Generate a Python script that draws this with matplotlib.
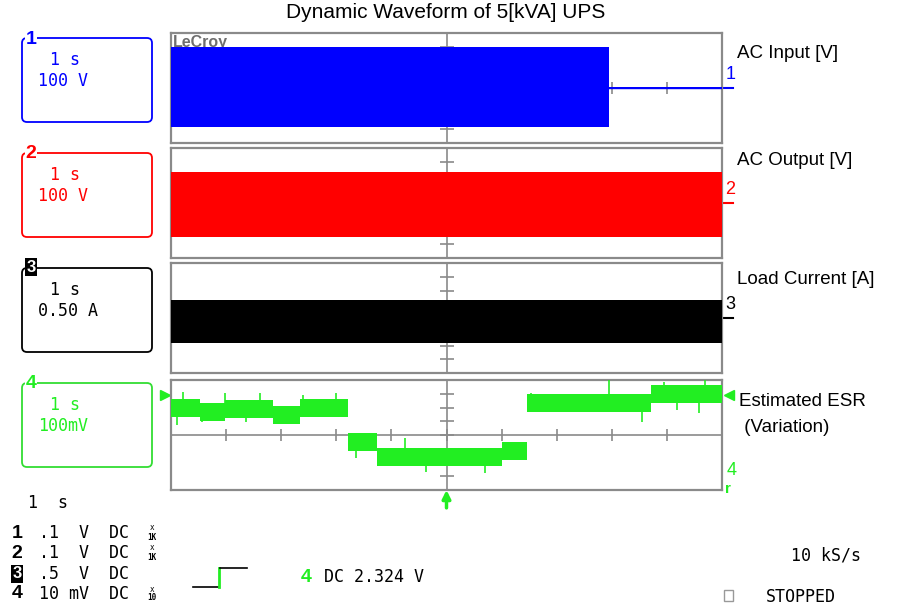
import matplotlib.pyplot as plt
import numpy as np
from matplotlib.patches import FancyBboxPatch, Rectangle

# --- Scope time base: 1 s/div, 10 x 8 divisions ---
n_xdiv = 10
n_ydiv = 8
trig_time = 5.0

# --- Channel 1: AC input [V], 100 V/div (mains cut at ~7.95 s) ---
ac_in_scale = 100
ac_in_t = [0.0, 7.95, 7.95, 10.0]
ac_in_upper = [300, 300, 5, 5]
ac_in_lower = [-285, -285, -5, -5]

# --- Channel 2: AC output [V], 100 V/div ---
ac_out_scale = 100
ac_out_t = [0.0, 10.0]
ac_out_upper = [228, 228]
ac_out_lower = [-245, -245]

# --- Channel 3: load current [A], 0.5 A/div ---
load_scale = 0.5
load_t = [0.0, 10.0]
load_upper = [0.65, 0.65]
load_lower = [-0.90, -0.90]

# --- Channel 4: estimated ESR variation [mV], 100 mV/div ---
esr_scale = 100
esr_edges = [0.0, 0.53, 0.98, 1.85, 2.34, 3.21, 3.73, 6.00, 6.47, 8.71, 10.0]
esr_levels = [196, 167, 189, 145, 196, -51, -157, -116, 230, 298]
esr_ripple = 66
esr_spike_t = [0.22, 0.98, 1.61, 2.40, 3.00, 6.53, 0.10, 0.56, 1.37, 3.36,
               4.24, 4.63, 5.69, 8.37, 8.55, 9.18, 9.58, 7.95, 8.95, 9.70]
esr_spike_v = [315, 303, 308, 291, 303, 303, 73, 97, 97, -170,
               -24, -267, -279, 182, 97, 182, 160, 400, 388, 400]
trig_level = 290

# --- Labels ---
title = "Dynamic Waveform of 5[kVA] UPS"
right_labels = ["AC Input [V]", "AC Output [V]", "Load Current [A]", "Estimated ESR", " (Variation)"]
right_label_y = [54, 160, 279, 402, 427]
ch_colors = ["#0000ff", "#ff0000", "#000000", "#22ee22"]
box_scales = ["100 V", "100 V", "0.50 A", "100mV"]
probe_volts = [".1  V", ".1  V", ".5  V", "10 mV"]
probe_atten = ["1K", "1K", "", "10"]

grid_col = "#8a8a8a"
mono = "DejaVu Sans Mono"
sans = "Liberation Sans"

fig = plt.figure(figsize=(9, 6.15), dpi=100)

# panel layout in pixels
panel_tops = [33, 148, 263, 380]
panel_h = 110
panel_left, panel_right = 171, 722


def px_axes(top):
    return fig.add_axes([panel_left / 900, 1 - (top + panel_h) / 615,
                         (panel_right - panel_left) / 900, panel_h / 615])


scales = [ac_in_scale, ac_out_scale, load_scale, esr_scale]
axes = []
for top, sc in zip(panel_tops, scales):
    ax = px_axes(top)
    ax.set_xlim(0, n_xdiv)
    ax.set_ylim(-n_ydiv / 2 * sc, n_ydiv / 2 * sc)
    ax.set_xticks([])
    ax.set_yticks([])
    for s in ax.spines.values():
        s.set_color(grid_col)
        s.set_linewidth(1.6)
    # centre cross with division ticks
    ax.axvline(n_xdiv / 2, color=grid_col, lw=1.2, zorder=1)
    ax.axhline(0, color=grid_col, lw=1.2, zorder=1)
    ax.plot(np.arange(1, n_xdiv), np.zeros(n_xdiv - 1), ls="none", marker="|",
            ms=8, mew=1.2, color=grid_col, zorder=1)
    ax.plot(np.full(n_ydiv - 1, n_xdiv / 2), sc * np.arange(-3, 4), ls="none",
            marker="_", ms=10, mew=1.2, color=grid_col, zorder=1)
    axes.append(ax)

ax1, ax2, ax3, ax4 = axes

# LeCroy logo partly hidden behind trace 1
ax1.text(0.004, 0.985, "LeCroy", transform=ax1.transAxes, color="#6e6e6e",
         fontsize=11.5, fontweight="bold", family=sans, va="top", zorder=1)

# traces
ax1.fill_between(ac_in_t, ac_in_lower, ac_in_upper, color=ch_colors[0], lw=0, zorder=3)
ax1.plot(ac_in_t[2:], [0, 0], color=ch_colors[0], lw=1, zorder=3)
ax2.fill_between(ac_out_t, ac_out_lower, ac_out_upper, color=ch_colors[1], lw=0, zorder=3)
ax3.fill_between(load_t, load_lower, load_upper, color=ch_colors[2], lw=0, zorder=3)

esr_y = np.array(esr_levels + [esr_levels[-1]])
ax4.fill_between(esr_edges, esr_y - esr_ripple, esr_y + esr_ripple, step="post",
                 color=ch_colors[3], lw=0, zorder=3)
idx = np.searchsorted(esr_edges, esr_spike_t, side="right") - 1
ax4.vlines(esr_spike_t, np.array(esr_levels)[idx], esr_spike_v,
           color=ch_colors[3], lw=1.2, zorder=3)

# trigger markers on channel 4
ax4.plot([-0.1], [trig_level], marker=">", ms=7, color=ch_colors[3], clip_on=False)
ax4.plot([n_xdiv + 0.12], [trig_level], marker="<", ms=7, color=ch_colors[3], clip_on=False)
ax4.annotate("", xy=(trig_time, -4 * esr_scale), xytext=(trig_time, -5.3 * esr_scale),
             arrowprops=dict(arrowstyle="-|>", color=ch_colors[3], lw=2.5,
                             mutation_scale=12, shrinkA=0, shrinkB=0),
             annotation_clip=False)
ax4.text(n_xdiv + 0.08, -2.6 * esr_scale, "4", color=ch_colors[3], fontsize=13,
         family=sans, va="center", ha="left", clip_on=False)
ax4.text(n_xdiv + 0.06, -3.9 * esr_scale, "r", color=ch_colors[3], fontsize=11,
         family=sans, fontweight="bold", va="center", ha="left", clip_on=False)

# channel ground markers on the right
for ax, sc, num, col in zip(axes[:3], scales[:3], ["1", "2", "3"], ch_colors[:3]):
    ax.plot([n_xdiv, n_xdiv + 0.2], [0, 0], color=col, lw=1.5, clip_on=False)
    ax.text(n_xdiv + 0.06, 0.35 * sc, num, color=col, fontsize=13, family=sans,
            va="bottom", ha="left", clip_on=False)

# right-hand labels
for y, lab in zip(right_label_y, right_labels):
    x = 737 if y < 400 else 739
    fig.text(x / 900, 1 - y / 615, lab, fontsize=13.5, family=sans, va="center")

fig.text(446 / 900, 1 - 13 / 615, title, fontsize=15, family=sans, ha="center", va="center")

# overlay in pixel coordinates for the scope's side panels
ov = fig.add_axes([0, 0, 1, 1], zorder=10)
ov.set_xlim(0, 900)
ov.set_ylim(615, 0)
ov.axis("off")
ov.patch.set_alpha(0)

box_tops = [38, 153, 268, 383]
for i, (top, col, sc_txt) in enumerate(zip(box_tops, ch_colors, box_scales)):
    ec = "#33dd33" if i == 3 else col
    ov.add_patch(FancyBboxPatch((22, top), 130, 84, boxstyle="round,pad=0,rounding_size=5",
                                fc="none", ec=ec, lw=1.3))
    if i == 2:
        ov.text(31, top - 1, str(i + 1), color="white", fontsize=12, fontweight="bold",
                family=sans, ha="center", va="center",
                bbox=dict(fc="black", ec="none", pad=1))
    else:
        ov.text(31, top + 1, str(i + 1), color=col, fontsize=14, fontweight="bold",
                family=sans, ha="center", va="center",
                bbox=dict(fc="white", ec="none", pad=0.5))
    ov.text(50, top + 22, "1 s", color=col, fontsize=12, family=mono, va="center")
    ov.text(38, top + 43, sc_txt, color=col, fontsize=12, family=mono, va="center")

# bottom-left channel settings
ov.text(28, 503, "1  s", fontsize=12, family=mono, va="center")
line_y = [533, 553, 574, 594]
for i, (y, pv, att) in enumerate(zip(line_y, probe_volts, probe_atten)):
    if i == 2:
        ov.text(17, y, "3", color="white", fontsize=12, fontweight="bold", family=sans,
                ha="center", va="center", bbox=dict(fc="black", ec="none", pad=0.8))
    else:
        ov.text(17, y, str(i + 1), fontsize=14, fontweight="bold", family=sans,
                ha="center", va="center")
    ov.text(39, y, pv + "  DC", fontsize=12, family=mono, va="center")
    if att:
        ov.text(152, y - 5, "x", fontsize=5.5, family=mono, ha="center", va="center")
        ov.text(152, y + 4, att, fontsize=5.5, family=mono, ha="center", va="center",
                fontweight="bold")

# trigger slope icon
ov.plot([193, 218], [587, 587], color="black", lw=1.2)
ov.plot([219, 219], [587, 568], color=ch_colors[3], lw=2)
ov.plot([220, 247], [568, 568], color="black", lw=1.2)

ov.text(306, 577, "4", color=ch_colors[3], fontsize=14, fontweight="bold", family=sans,
        ha="center", va="center")
ov.text(324, 577, "DC 2.324 V", fontsize=12, family=mono, va="center")

ov.text(791, 555, "10 kS/s", fontsize=12, family=mono, va="center")
ov.add_patch(Rectangle((724, 590), 9, 11, fc="none", ec="#999999", lw=1))
ov.text(766, 597, "STOPPED", fontsize=12, family=mono, va="center")

fig.savefig("out.png", dpi=100, facecolor="white")
